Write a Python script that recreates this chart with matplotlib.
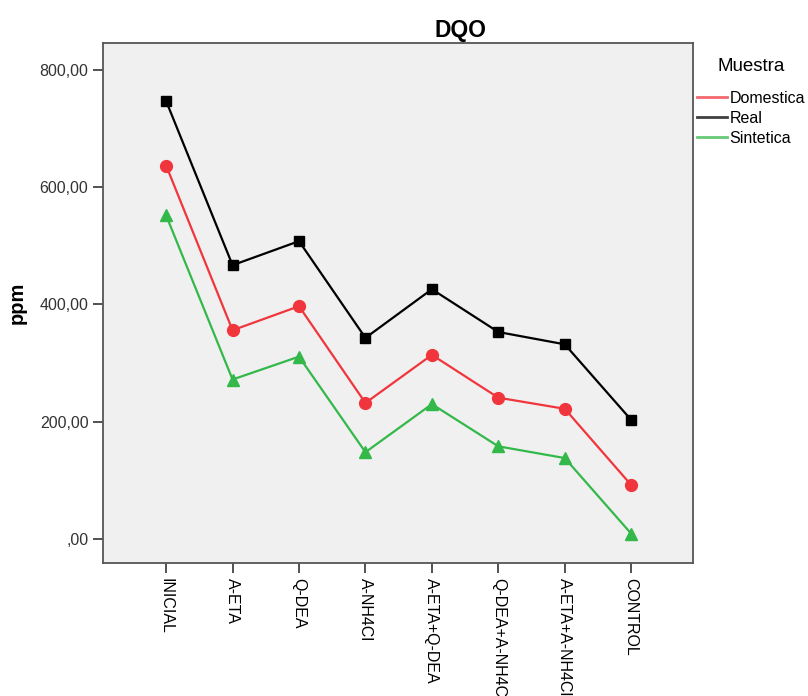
""" DQO por tratamiento y tipo de muestra """

import matplotlib.pyplot as plt
from matplotlib.ticker import FuncFormatter

plt.rcParams['font.family'] = ['Liberation Sans', 'DejaVu Sans']

tratamientos = ['INICIAL', 'A-ETA', 'Q-DEA', 'A-NH4Cl', 'A-ETA+Q-DEA',
                'Q-DEA+A-NH4Cl', 'A-ETA+A-NH4Cl', 'CONTROL']
domestica = [637, 356, 397, 232, 314, 241, 222, 92]
real = [747, 467, 508, 343, 426, 353, 332, 203]
sintetica = [552, 272, 311, 148, 230, 158, 138, 9]


def ppm_fmt(v, pos):
    s = '{:.2f}'.format(v).replace('.', ',')
    if s.startswith('0,'):
        s = s[1:]
    return s


def data_visualization():
    fig = plt.figure(figsize=(8.08, 6.96), dpi=100)
    ax = fig.add_axes([103 / 808, 1 - 563 / 696, 590 / 808, 520 / 696])
    ax.set_facecolor('#f0f0f0')
    x = range(len(tratamientos))

    ax.plot(x, domestica, color='#f0363c', lw=1.6, marker='o', ms=8.5,
            label='Domestica')
    ax.plot(x, real, color='black', lw=1.6, marker='s', ms=7,
            label='Real')
    ax.plot(x, sintetica, color='#33b84a', lw=1.6, marker='^', ms=9,
            label='Sintetica')

    ax.set_xlim(-0.95, 7.93)
    ax.set_ylim(-41, 846)
    ax.set_yticks([0, 200, 400, 600, 800])
    ax.yaxis.set_major_formatter(FuncFormatter(ppm_fmt))
    ax.set_xticks(list(x))
    ax.set_xticklabels(tratamientos, rotation=-90, fontsize=11.5)
    ax.tick_params(axis='y', labelsize=11.5, labelcolor='#333333')
    ax.tick_params(length=7, width=1.2, color='#333333')
    for sp in ax.spines.values():
        sp.set_color('#555555')
        sp.set_linewidth(1.3)

    ax.set_ylabel('ppm', fontsize=14.5, fontweight='bold')
    ax.yaxis.set_label_coords((27 - 103) / 590, 0.5)
    fig.text(461 / 808, 1 - 30 / 696, 'DQO', fontsize=16.5, fontweight='bold',
             ha='center', va='center')

    leg = ax.legend(loc='upper left', bbox_to_anchor=(697 / 808, 1 - 58 / 696),
                    bbox_transform=fig.transFigure,
                    frameon=False, title='Muestra', fontsize=11.5,
                    title_fontsize=13.5, handlelength=1.9, handletextpad=0.12,
                    labelspacing=0.3, borderaxespad=0, borderpad=0)
    leg._legend_box.sep = 11.5
    for h in leg.legend_handles:
        h.set_marker('')
        h.set_linewidth(2)
        h.set_alpha(0.75)

    fig.savefig('out.png', dpi=100)


data_visualization()
